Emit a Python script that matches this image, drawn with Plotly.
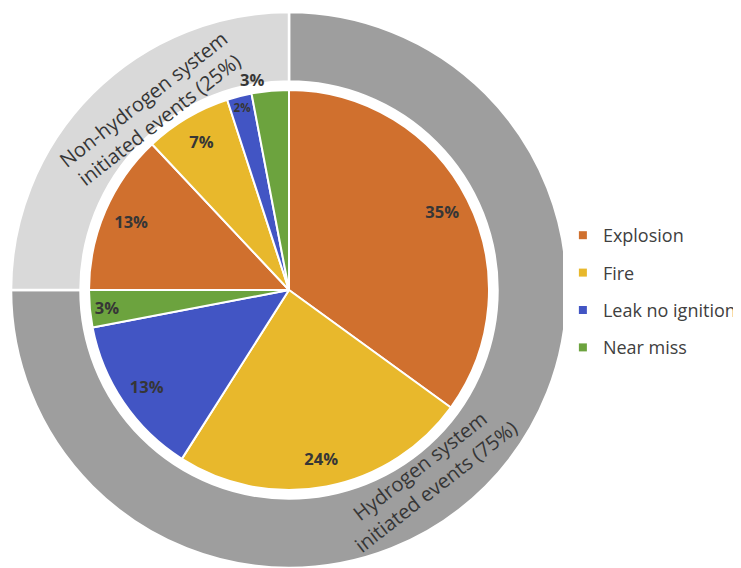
import plotly.graph_objects as go

# ---- data ----
outer_labels = ["Hydrogen system initiated events", "Non-hydrogen system initiated events"]
outer_values = [75, 25]
outer_colors = ["#9E9E9E", "#D9D9D9"]

inner_labels = ["Explosion (H)", "Fire (H)", "Leak no ignition (H)", "Near miss (H)",
                "Explosion (N)", "Fire (N)", "Leak no ignition (N)", "Near miss (N)"]
inner_values = [35, 24, 13, 3, 13, 7, 2, 3]
category_of_slice = ["Explosion", "Fire", "Leak no ignition", "Near miss",
                     "Explosion", "Fire", "Leak no ignition", "Near miss"]

legend_categories = ["Explosion", "Fire", "Leak no ignition", "Near miss"]
category_colors = {"Explosion": "#D0702E", "Fire": "#E8B82C",
                   "Leak no ignition": "#4255C4", "Near miss": "#6CA33E"}

# page body has an 8px margin, so the figure is sized to fit the window
W, H = 733, 560
top_margin = 4
ph = H - top_margin
cx = 281                   # pixel centre x within figure
cy_off = 278               # centre y measured from top of plot area
R_out, R_in = 278, 200

def dom_x(r):
    return [(cx - r) / W, (cx + r) / W]

def dom_y(r):
    c = ph - cy_off
    return [(c - r) / ph, (c + r) / ph]

def px(x):
    return x / W

def py(y):  # y measured from top of figure
    return 1 - (y - top_margin) / ph

slice_colors = [category_colors[c] for c in category_of_slice]

fig = go.Figure()

fig.add_trace(go.Pie(
    labels=outer_labels, values=outer_values, sort=False, direction="clockwise",
    hole=0.75, marker=dict(colors=outer_colors, line=dict(color="white", width=2.5)),
    textinfo="none", hoverinfo="label+percent", showlegend=False,
    domain=dict(x=dom_x(R_out), y=dom_y(R_out)),
))

# solid inner pie
fig.add_trace(go.Pie(
    labels=inner_labels, values=inner_values, sort=False, direction="clockwise",
    marker=dict(colors=slice_colors, line=dict(color="white", width=2)),
    textinfo="none", hoverinfo="label+value", showlegend=False,
    domain=dict(x=dom_x(R_in), y=dom_y(R_in)),
))

# same slices again as a transparent ring, carrying the percentage labels near the rim
text_pos = ["inside"] * 7 + ["outside"]
fig.add_trace(go.Pie(
    labels=inner_labels, values=inner_values, sort=False, direction="clockwise",
    hole=0.72,
    marker=dict(colors=["rgba(0,0,0,0)"] * len(inner_values), line=dict(width=0)),
    texttemplate="%{value}%", textposition=text_pos,
    insidetextorientation="horizontal",
    textfont=dict(family="Open Sans", size=16.5, color="#363636", weight="bold"),
    hoverinfo="skip", showlegend=False,
    domain=dict(x=dom_x(R_in), y=dom_y(R_in)),
))

# legend entries
for c in legend_categories:
    fig.add_trace(go.Scatter(
        x=[None], y=[None], mode="markers", name=c, legendgroup=c,
        marker=dict(symbol="square", size=8, color=category_colors[c]),
    ))

fig.add_annotation(
    text="Non-hydrogen system<br>initiated events (25%)", x=px(143), y=py(101),
    xref="paper", yref="paper", xanchor="center", yanchor="middle",
    showarrow=False, textangle=-38,
    font=dict(family="Open Sans", size=20, color="#363636"),
)
fig.add_annotation(
    text="Hydrogen system<br>initiated events (75%)", x=px(419), y=py(468),
    xref="paper", yref="paper", xanchor="center", yanchor="middle",
    showarrow=False, textangle=-38,
    font=dict(family="Open Sans", size=20, color="#363636"),
)

fig.update_layout(
    width=W, height=H,
    margin=dict(l=0, r=0, t=top_margin, b=0),
    paper_bgcolor="white", plot_bgcolor="white",
    xaxis=dict(visible=False), yaxis=dict(visible=False),
    legend=dict(x=0.757, y=py(283.5), yanchor="middle", xanchor="left",
                font=dict(family="Open Sans", size=18, color="#404040"),
                tracegroupgap=11, itemclick=False),
    showlegend=True,
)

fig.write_html("out.html")
